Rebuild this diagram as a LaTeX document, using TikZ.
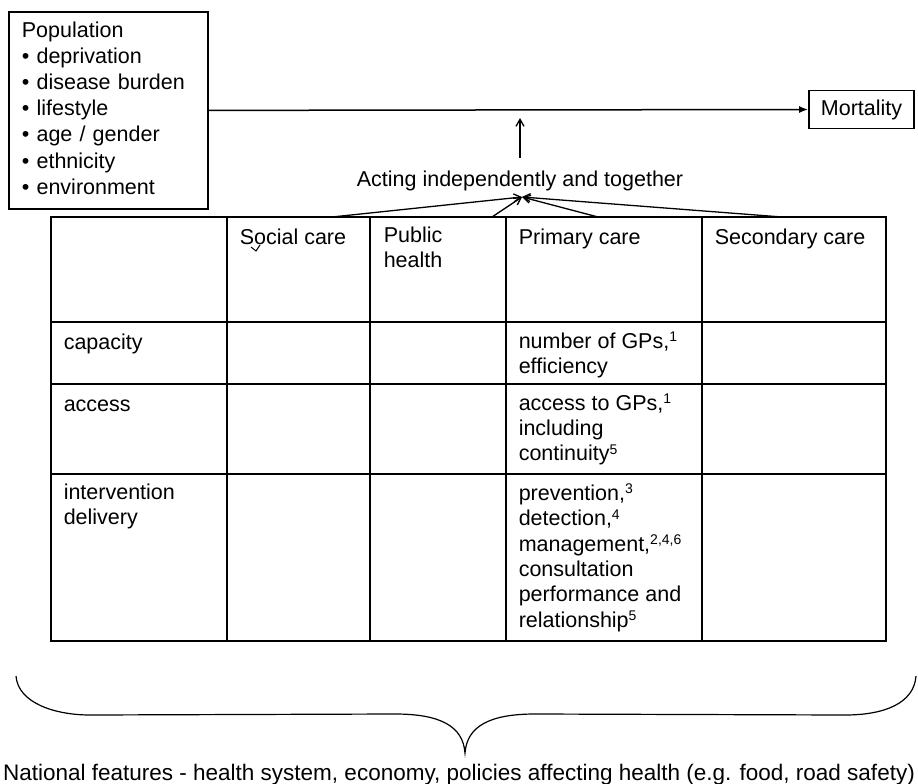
\documentclass[tikz,border=0pt]{standalone}
\usepackage{fontspec}
\setmainfont{Liberation Sans}
\usetikzlibrary{arrows.meta}
\newcommand\bodyfont{\fontsize{21.5pt}{25.4pt}\selectfont}
\newcommand\popfont{\fontsize{21.5pt}{26.2pt}\selectfont}
\newcommand\natfont{\fontsize{22.5pt}{26pt}\selectfont}
\newcommand\refno[1]{\raisebox{6.5pt}{\fontsize{14pt}{14pt}\selectfont #1}}

\begin{document}
\begin{tikzpicture}[x=1pt, y=-1pt, line width=1.5pt,
    cell/.style={anchor=north west, inner sep=0pt, align=left, font=\bodyfont, execute at begin node=\strut},
    conv/.style={-{Straight Barb[length=7pt,width=8pt]}, line width=1.3pt}]
    \useasboundingbox (0,0) rectangle (918,784);
    \node[draw, line width=1.8pt, anchor=north west, text width=173pt, minimum height=197pt,
      inner xsep=13pt, inner ysep=0pt, align=left, font=\popfont] (pop) at (8,11)
      {\strut Population\\• deprivation\\• disease burden\\• lifestyle\\• age / gender\\• ethnicity\\• environment\strut};
    \node[draw, line width=1.8pt, minimum width=105pt, minimum height=38pt, font=\bodyfont] (mort) at (861.5,109.5) {Mortality};
    \draw[-{Latex[length=9pt,width=7pt]}] (pop.east) -- (mort.west);
    \node[anchor=base, inner sep=0pt, font=\bodyfont] (act) at (520,186) {Acting independently and together};
    \coordinate (tip) at (520,118);
    \draw[conv] ([yshift=12pt]act.north) -- (tip);
    \coordinate (meet) at (522,197);
    \foreach \x [count=\i] in {332,492,598,782}
      \coordinate (s\i) at (\x,217);
    \foreach \i in {1,...,4}
      \draw[conv] (s\i) -- (meet);
    \draw (51,217) rectangle (886,641);
    \foreach \x in {227,370,506,702}
      \draw (\x,217) -- (\x,641);
    \foreach \y in {322,384,474}
      \draw (51,\y) -- (886,\y);
    \node[cell] (social) at (239,226.2) {Social care};
    \draw[line width=1pt] (260,245) -- (256,251) -- (251,247);
    \node[cell] (public) at (383,226.2) {Public\\health};
    \node[cell] (primary) at (518,226.2) {Primary care};
    \node[cell] (secondary) at (714,226.2) {Secondary care};
    \node[cell] (cap) at (63,331.2) {capacity};
    \node[cell] (capgp) at (518,331.2) {number of GPs,\refno{1}\\efficiency};
    \node[cell] (acc) at (63,393.2) {access};
    \node[cell] (accgp) at (518,393.2) {access to GPs,\refno{1}\\including\\continuity\refno{5}};
    \node[cell] (int) at (63,483.2) {intervention\\delivery};
    \node[cell] (intgp) at (518,483.2) {prevention,\refno{3}\\detection,\refno{4}\\management,\refno{2,4,6}\\consultation\\performance and\\relationship\refno{5}};
    \draw[line width=1.2pt] (16,676) .. controls (18,703) and (55,715) .. (90,715) -- (395,714)
      .. controls (440,714) and (463,726) .. (465,753) .. controls (467,726) and (490,714) .. (535,714)
      -- (845,715) .. controls (885,715) and (914,703) .. (916,676);
    \node[anchor=base, inner sep=0pt, font=\natfont] (nat) at (459,780) {National features - health system, economy, policies affecting health (e.g. food, road safety)};
\end{tikzpicture}
\end{document}
